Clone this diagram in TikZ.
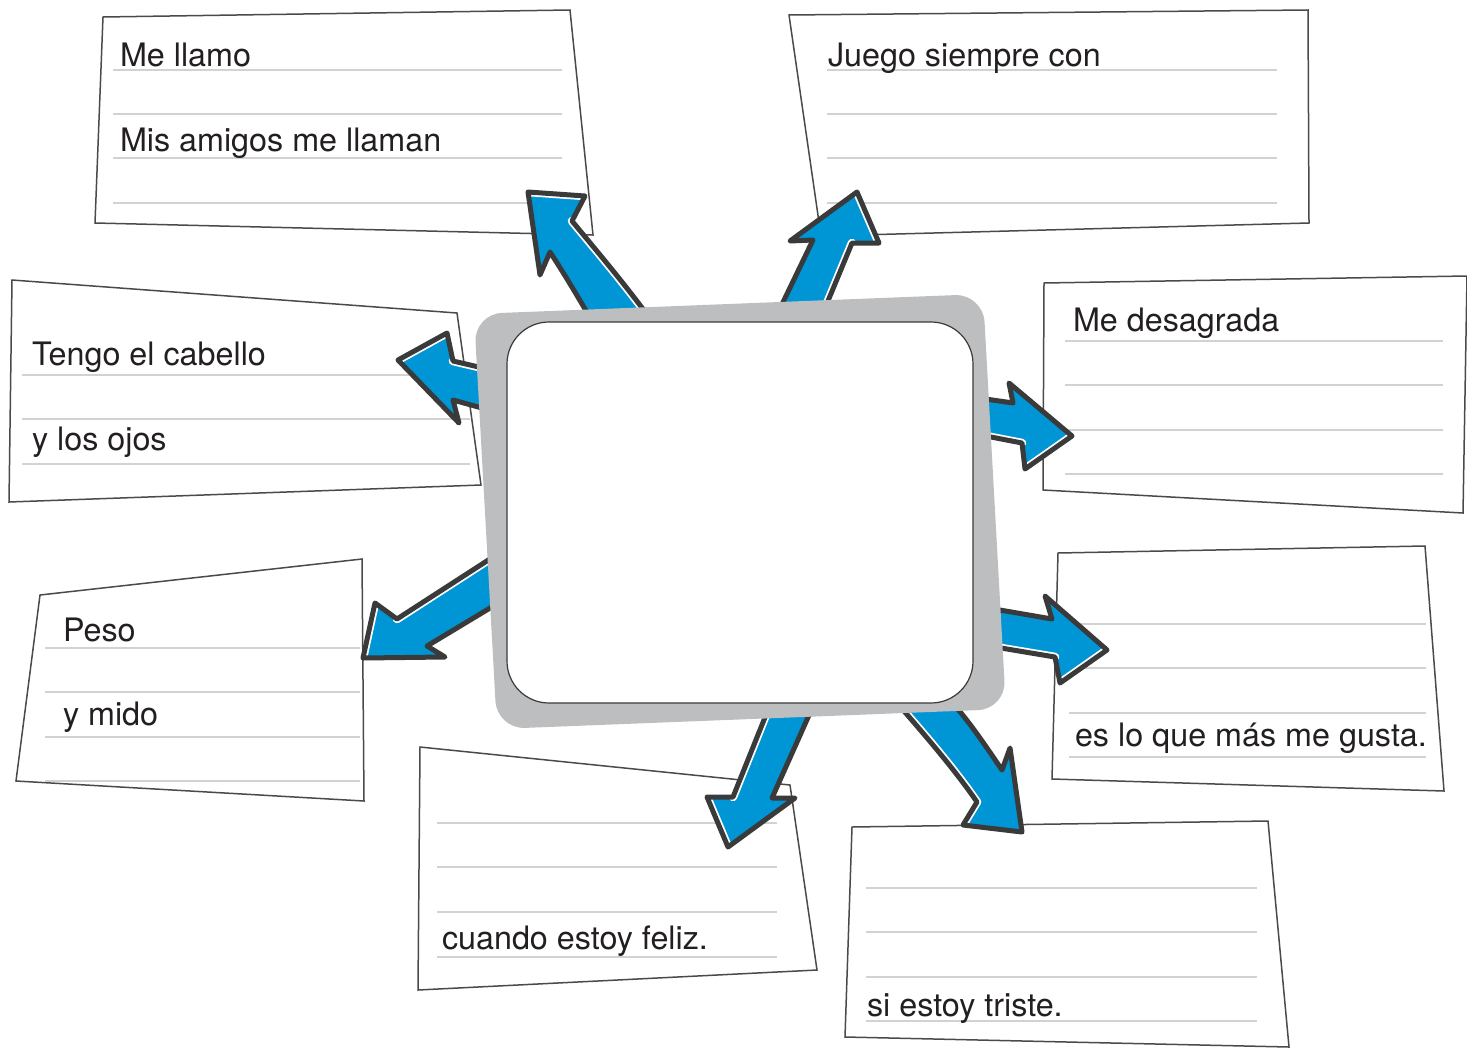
\documentclass[tikz,border=0pt]{standalone}
\usepackage{fontspec}
\setmainfont{TeX Gyre Heros}
\definecolor{cardline}{HTML}{4A4A4A}
\definecolor{rulegray}{HTML}{D2D2D2}
\definecolor{ink}{HTML}{231F20}
\definecolor{arrowblue}{HTML}{0096D6}
\definecolor{arrowdark}{HTML}{3A3A3A}
\definecolor{framegray}{HTML}{BCBEC0}
\newcommand{\blockarr}[2]{%
  \fill[arrowblue] #1;
  \begin{scope}\clip #1; \draw[white, line width=8.5pt, line cap=round, line join=round] #2;\end{scope}
  \draw[arrowdark, line width=5pt, line join=round] #1;
}
\begin{document}
\begin{tikzpicture}[x=1pt,y=-1pt,
  card/.style={draw=cardline, line width=1.5pt, fill=white},
  rule/.style={draw=rulegray, line width=2pt},
  lbl/.style={anchor=base west, inner sep=0pt, outer sep=0pt, font=\fontsize{32.3}{38}\selectfont, text=ink}]
\useasboundingbox (0,0) rectangle (1467,1047);

% ---------- cards ----------
% 1 top-left
\draw[card] (103,17) -- (570,10) -- (593,235) -- (95,223) -- cycle;
\foreach \y in {70,114,158,203} \draw[rule] (113,\y) -- (562,\y);
\node[lbl] (t1) at (120,66) {Me llamo};
\node[lbl] (t2) at (120,151) {Mis amigos me llaman};
% 2 top-right
\draw[card] (789,15) -- (1308,10) -- (1309,223) -- (821,236) -- cycle;
\foreach \y in {70,114,158,203} \draw[rule] (827,\y) -- (1277,\y);
\node[lbl] (t3) at (828,66) {Juego siempre con};
% 3 middle-left
\draw[card] (12,280) -- (457,313) -- (481,485) -- (9,502) -- cycle;
\foreach \y in {375,419,464} \draw[rule] (22,\y) -- (470,\y);
\node[lbl] (t4) at (32,365) {Tengo el cabello};
\node[lbl] (t5) at (32,450) {y los ojos};
% 4 right-middle
\draw[card] (1044,283) -- (1467,276) -- (1463,513) -- (1043,490) -- cycle;
\foreach \y in {341,385,430,474} \draw[rule] (1065,\y) -- (1443,\y);
\node[lbl] (t6) at (1073,331) {Me desagrada};
% 5 left-lower
\draw[card] (40,595) -- (362,559) -- (364,801) -- (16,781) -- cycle;
\foreach \y in {648,692,737,781} \draw[rule] (45,\y) -- (360,\y);
\node[lbl] (t7) at (63,641) {Peso};
\node[lbl] (t8) at (63,725) {y mido};
% 6 bottom-middle
\draw[card] (420,747) -- (790,785) -- (817,970) -- (418,990) -- cycle;
\foreach \y in {823,867,912,957} \draw[rule] (437,\y) -- (777,\y);
\node[lbl] (t9) at (442,949) {cuando estoy feliz.};
% 7 right-lower
\draw[card] (1058,553) -- (1425,546) -- (1444,791) -- (1052,779) -- cycle;
\foreach \y in {624,668,713,757} \draw[rule] (1069,\y) -- (1426,\y);
\node[lbl] (t10) at (1075,746) {es lo que más me gusta.};
% 8 bottom-right
\draw[card] (852,827) -- (1268,821) -- (1289,1047) -- (845,1037) -- cycle;
\foreach \y in {888,932,977,1021} \draw[rule] (866,\y) -- (1257,\y);
\node[lbl] (t11) at (867,1016) {si estoy triste.};

% ---------- arrows ----------
% A up-left
\blockarr{(600,335) .. controls (580,300) and (565,275) .. (550,252) -- (540,275) -- (528,192) -- (585,196) -- (572,221) .. controls (600,255) and (630,290) .. (662,335) -- cycle}
  {(528,192) -- (585,196) (572,221) .. controls (600,255) and (630,290) .. (662,335)}
% B up-right
\blockarr{(772,325) -- (813,240) -- (790,241) -- (857,192) -- (879,243) -- (852,243) -- (818,325) -- cycle}
  {(857,192) -- (879,243) (852,243) -- (818,325)}
% C left
\blockarr{(500,372) -- (453,361) -- (447,333) -- (398,360) -- (459,423) -- (453,400) -- (500,413) -- cycle}
  {(500,372) -- (453,361) (447,333) -- (398,360)}
% D right-upper
\blockarr{(965,396) -- (1013,403) -- (1009,383) -- (1072,436) -- (1025,469) -- (1022,443) -- (965,432) -- cycle}
  {(1072,436) -- (1025,469) (1022,443) -- (965,432)}
% E down-left
\blockarr{(510,546) -- (397,619) -- (375,603) -- (363,658) -- (445,657) -- (427,646) -- (510,596) -- cycle}
  {(510,546) -- (397,619) (375,603) -- (363,658)}
% F down-left (bottom middle)
\blockarr{(774,695) -- (733,797) -- (707,797) -- (728,847) -- (795,798) -- (772,798) -- (818,695) -- cycle}
  {(774,695) -- (733,797) (707,797) -- (728,847)}
% G down-right
\blockarr{(890,695) .. controls (925,735) and (955,770) .. (977,802) -- (963,825) -- (1022,832) -- (1010,748) -- (1002,770) .. controls (985,745) and (965,715) .. (945,695) -- cycle}
  {(890,695) .. controls (925,735) and (955,770) .. (977,802) -- (963,825)}
% H right-lower
\blockarr{(965,604) -- (1052,619) -- (1045,596) -- (1107,650) -- (1060,683) -- (1055,657) -- (965,642) -- cycle}
  {(1107,650) -- (1060,683) (1055,657) -- (965,642)}

% ---------- central frame ----------
\fill[framegray, rounded corners=28pt] (474,314) -- (983,294) -- (1006,709) -- (497,729) -- cycle;
\draw[fill=white, draw=arrowdark, line width=1.2pt, rounded corners=42pt] (507,322) rectangle (973,703);
\end{tikzpicture}
\end{document}
